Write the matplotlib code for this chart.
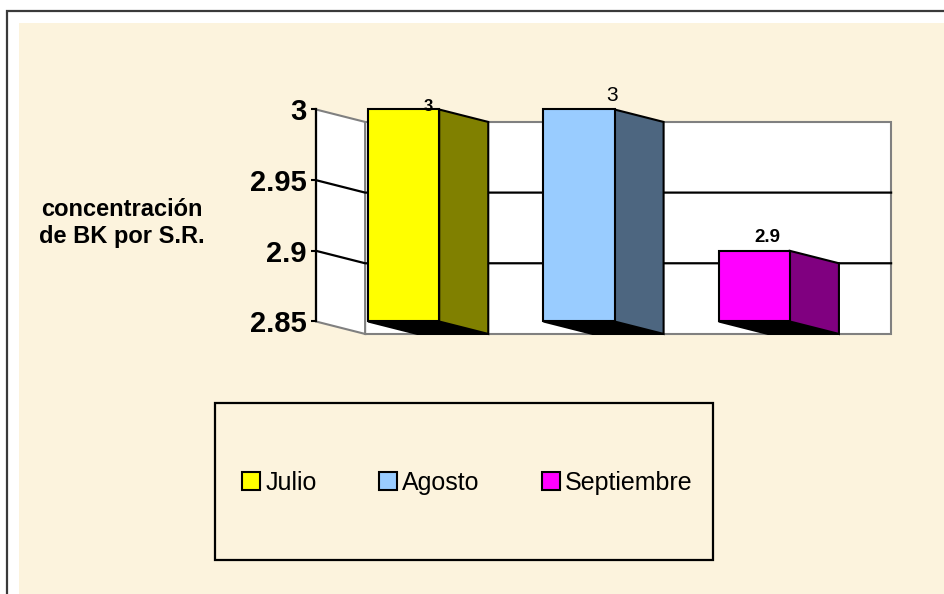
import matplotlib.pyplot as plt
from matplotlib.patches import Polygon, Rectangle, Patch

plt.rcParams['font.family'] = ['Liberation Sans', 'DejaVu Sans']

# monthly BK concentration
months = ['Julio', 'Agosto', 'Septiembre']
values = [3.0, 3.0, 2.9]
value_labels = ['3', '3', '2.9']
y_ticks = [2.85, 2.9, 2.95, 3.0]
y_tick_labels = ['2.85', '2.9', '2.95', '3']

front_colors = ['#FFFF00', '#99CCFF', '#FF00FF']
side_colors = ['#808000', '#4D6680', '#800080']

y_min, y_max = 2.85, 3.0
depth_x, depth_y = 0.28, -0.0088   # fake 3d depth, in data units
bar_w = 0.405

W, H = 945, 594
fig = plt.figure(figsize=(W / 100, H / 100), dpi=100)
fig.patch.set_facecolor('white')

# paper background and outer frame
fig.patches.append(Rectangle((19 / W, 0), 1, 1 - 23 / H, transform=fig.transFigure,
                             facecolor='#FCF3DD', edgecolor='none', zorder=-3))
fig.patches.append(Rectangle((7 / W, -0.1), 1.2, 1.1 - 11 / H, transform=fig.transFigure,
                             facecolor='none', edgecolor='#3a3a3a', lw=1.6, zorder=-2))

ax = fig.add_axes([316 / W, 1 - 321.5 / H, 526 / W, 212 / H])
ax.set_xlim(0, len(months))
ax.set_ylim(y_min, y_max)
ax.patch.set_alpha(0)

# walls
back = Polygon([(depth_x, y_min + depth_y), (len(months) + depth_x, y_min + depth_y),
                (len(months) + depth_x, y_max + depth_y), (depth_x, y_max + depth_y)],
               closed=True, facecolor='white', edgecolor='#808080', lw=1.5,
               clip_on=False, zorder=1)
left = Polygon([(0, y_min), (depth_x, y_min + depth_y), (depth_x, y_max + depth_y), (0, y_max)],
               closed=True, facecolor='white', edgecolor='#808080', lw=1.5,
               clip_on=False, zorder=1)
ax.add_patch(back)
ax.add_patch(left)

for t in y_ticks[1:-1]:
    ax.plot([0, depth_x, len(months) + depth_x], [t, t + depth_y, t + depth_y],
            color='black', lw=1.6, clip_on=False, zorder=1.5)

# bars: front face, side face, bottom face
for i, v in enumerate(values):
    x0 = i + 0.5 - bar_w / 2
    x1 = i + 0.5 + bar_w / 2
    bottom = Polygon([(x0, y_min), (x1, y_min), (x1 + depth_x, y_min + depth_y),
                      (x0 + depth_x, y_min + depth_y)],
                     closed=True, facecolor='black', edgecolor='black', lw=1.5,
                     clip_on=False, zorder=3)
    side = Polygon([(x1, y_min), (x1 + depth_x, y_min + depth_y), (x1 + depth_x, v + depth_y), (x1, v)],
                   closed=True, facecolor=side_colors[i], edgecolor='black', lw=1.5,
                   clip_on=False, zorder=3)
    front = Rectangle((x0, y_min), bar_w, v - y_min, facecolor=front_colors[i],
                      edgecolor='black', lw=1.5, clip_on=False, zorder=4)
    ax.add_patch(bottom)
    ax.add_patch(side)
    ax.add_patch(front)

# value labels (each one styled a bit differently)
label_style = [(0, -1, 12, 'bold'), (5.8, 5.8, 15, 'normal'), (-8, 6.5, 13.5, 'bold')]
for i, v in enumerate(values):
    ox, oy, fs, fw = label_style[i]
    ax.annotate(value_labels[i], xy=(i + 0.5 + depth_x / 2, v), xytext=(ox, oy),
                textcoords='offset points', ha='center', va='baseline',
                fontsize=fs, fontweight=fw, zorder=5, annotation_clip=False)

ax.set_xticks([])
ax.set_yticks(y_ticks, y_tick_labels)
ax.tick_params(axis='y', length=3.6, width=1.5, pad=3, labelsize=21)
for lab in ax.get_yticklabels():
    lab.set_fontweight('bold')
for s in ['top', 'right', 'bottom']:
    ax.spines[s].set_visible(False)
ax.spines['left'].set_linewidth(1.6)
ax.spines['left'].set_zorder(2)

fig.text(122 / W, 1 - 223 / H, 'concentración\nde BK por S.R.', ha='center', va='center',
         fontsize=17, fontweight='bold', linespacing=1.25)

# legend in its own box
fig.patches.append(Rectangle((215 / W, 1 - 560 / H), 498 / W, 157 / H, transform=fig.transFigure,
                             facecolor='none', edgecolor='black', lw=1.6, zorder=1))
handles = [Patch(facecolor=c, edgecolor='black', lw=1.5) for c in front_colors]
fig.legend(handles, months, loc='center', bbox_to_anchor=(467.5 / W, 1 - 483 / H),
           ncol=3, frameon=False, handlelength=0.72, handleheight=0.72,
           handletextpad=0.2, columnspacing=2.5, borderpad=0,
           prop={'size': 18})

fig.savefig('out.png', dpi=100)
